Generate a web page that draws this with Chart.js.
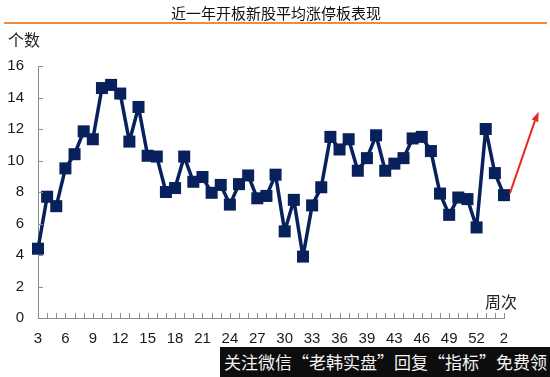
<!DOCTYPE html>
<html>
<head>
<meta charset="utf-8">
<script src="https://cdn.jsdelivr.net/npm/chart.js@4.4.0/dist/chart.umd.min.js"></script>
<style>
    html, body { margin: 0; padding: 0; background: #fff; }
    #wrap { position: relative; width: 550px; height: 377px; overflow: hidden; }
    #chart { position: absolute; left: 0; top: 0; }
    .title { position: absolute; left: 0; width: 552px; top: 3px; text-align: center;
             font: 15px "Noto Sans CJK SC", sans-serif; color: #111; line-height: 20px; }
    .rule { position: absolute; left: 4px; width: 543px; top: 22px; height: 2px; background: #f28a3a; }
    .unit { position: absolute; font: 16px "Noto Sans CJK SC", sans-serif; color: #222; line-height: 20px; }
    .mark { position: absolute; left: 220px; top: 347px; width: 330px; height: 30px; background: #0d0d0d;
            color: #f4f4f4; font: 17px "Noto Sans CJK SC", sans-serif; line-height: 30px;
            white-space: nowrap; padding-left: 4px; box-sizing: border-box; }
</style>
</head>
<body>
<div id="wrap">
    <canvas id="chart" width="550" height="377"></canvas>
    <div class="title">近一年开板新股平均涨停板表现</div>
    <div class="rule"></div>
    <div class="unit" style="left:8px; top:29px;">个数</div>
    <div class="unit" style="left:485px; top:291px;">周次</div>
    <div class="mark">关注微信“老韩实盘”回复“指标”免费领</div>
</div>
<script>
const weeks = ["3", "4", "5", "6", "7", "8", "9", "10", "11", "12", "13", "14", "15", "16", "17", "18",
    "19", "20", "21", "22", "23", "24", "25", "26", "27", "28", "29", "30", "31", "32", "33", "34",
    "35", "36", "37", "38", "39", "41", "42", "43", "44", "45", "46", "47", "48", "49", "50", "51",
    "52", "53", "1", "2"];

const avgLimitUp = [4.4, 7.7, 7.1, 9.5, 10.4, 11.85, 11.35, 14.6, 14.8, 14.25, 11.2, 13.4, 10.3,
    10.25, 8.0, 8.25, 10.25, 8.65, 8.95, 7.95, 8.45, 7.2, 8.5, 9.05, 7.6, 7.75, 9.1, 5.5, 7.5, 3.9,
    7.15, 8.3, 11.5, 10.7, 11.35, 9.35, 10.15, 11.6, 9.35, 9.8, 10.15, 11.4, 11.5, 10.6, 7.9, 6.55,
    7.65, 7.55, 5.75, 12.0, 9.2, 7.8];

const yTicks = [0, 2, 4, 6, 8, 10, 12, 14, 16];

// trend arrow, in data units (category index, value)
const arrowTip = [54.8, 13.1];

const axisColor = "#8c8c8c";
const textColor = "#1a1a1a";
const tickFont = { family: "'Liberation Sans', Arial, sans-serif", size: 15 };

// small tick marks pointing inside the plot, like the original
const innerTicks = {
    id: "innerTicks",
    afterDraw(chart) {
        const { ctx, chartArea, scales } = chart;
        ctx.save();
        ctx.strokeStyle = axisColor;
        ctx.lineWidth = 1;
        ctx.beginPath();
        yTicks.forEach(v => {
            const y = Math.round(scales.y.getPixelForValue(v)) + 0.5;
            ctx.moveTo(chartArea.left, y);
            ctx.lineTo(chartArea.left + 5, y);
        });
        weeks.forEach((w, i) => {
            const x = Math.round(scales.x.getPixelForValue(i)) + 0.5;
            ctx.moveTo(x, chartArea.bottom);
            ctx.lineTo(x, chartArea.bottom - 5);
        });
        ctx.stroke();
        ctx.restore();
    }
};

const trendArrow = {
    id: "trendArrow",
    afterDatasetsDraw(chart) {
        const { ctx, scales } = chart;
        const last = avgLimitUp.length - 1;
        const x0 = scales.x.getPixelForValue(last);
        const y0 = scales.y.getPixelForValue(avgLimitUp[last]);
        const x1 = scales.x.getPixelForValue(arrowTip[0]);
        const y1 = scales.y.getPixelForValue(arrowTip[1]);
        const ang = Math.atan2(y1 - y0, x1 - x0);
        const head = 10, half = 3.5;
        ctx.save();
        ctx.strokeStyle = "#e8281f";
        ctx.fillStyle = "#e8281f";
        ctx.lineWidth = 2;
        ctx.beginPath();
        ctx.moveTo(x0 + 6, y0 - 2);
        ctx.lineTo(x1 - Math.cos(ang) * head, y1 - Math.sin(ang) * head);
        ctx.stroke();
        ctx.beginPath();
        ctx.moveTo(x1, y1);
        ctx.lineTo(x1 - Math.cos(ang) * head - Math.sin(ang) * half, y1 - Math.sin(ang) * head + Math.cos(ang) * half);
        ctx.lineTo(x1 - Math.cos(ang) * head + Math.sin(ang) * half, y1 - Math.sin(ang) * head - Math.cos(ang) * half);
        ctx.closePath();
        ctx.fill();
        ctx.restore();
    }
};

new Chart(document.getElementById("chart"), {
    type: "line",
    data: {
        labels: weeks,
        datasets: [{
            data: avgLimitUp,
            borderColor: "#08205c",
            backgroundColor: "#08205c",
            borderWidth: 3.5,
            borderJoinStyle: "round",
            pointStyle: "rect",
            pointRadius: 8.5,
            pointBorderWidth: 0,
            tension: 0,
            clip: false
        }]
    },
    options: {
        responsive: false,
        animation: false,
        layout: { padding: { top: 66, right: 46, left: 0, bottom: 0 } },
        plugins: {
            legend: { display: false },
            tooltip: { enabled: false }
        },
        scales: {
            x: {
                grid: { display: false, drawTicks: false },
                border: { display: true, color: axisColor, width: 1 },
                ticks: {
                    autoSkip: false,
                    maxRotation: 0,
                    padding: 12,
                    color: textColor,
                    font: tickFont,
                    callback: (v, i) => (i % 3 === 0 ? weeks[i] : "")
                },
                afterFit: s => { s.height = 59; }
            },
            y: {
                min: 0,
                max: 16,
                grid: { display: false, drawTicks: false },
                border: { display: true, color: axisColor, width: 1 },
                ticks: { stepSize: 2, padding: 14, color: textColor, font: tickFont },
                afterFit: s => { s.width = 38; }
            }
        }
    },
    plugins: [innerTicks, trendArrow]
});
</script>
</body>
</html>
